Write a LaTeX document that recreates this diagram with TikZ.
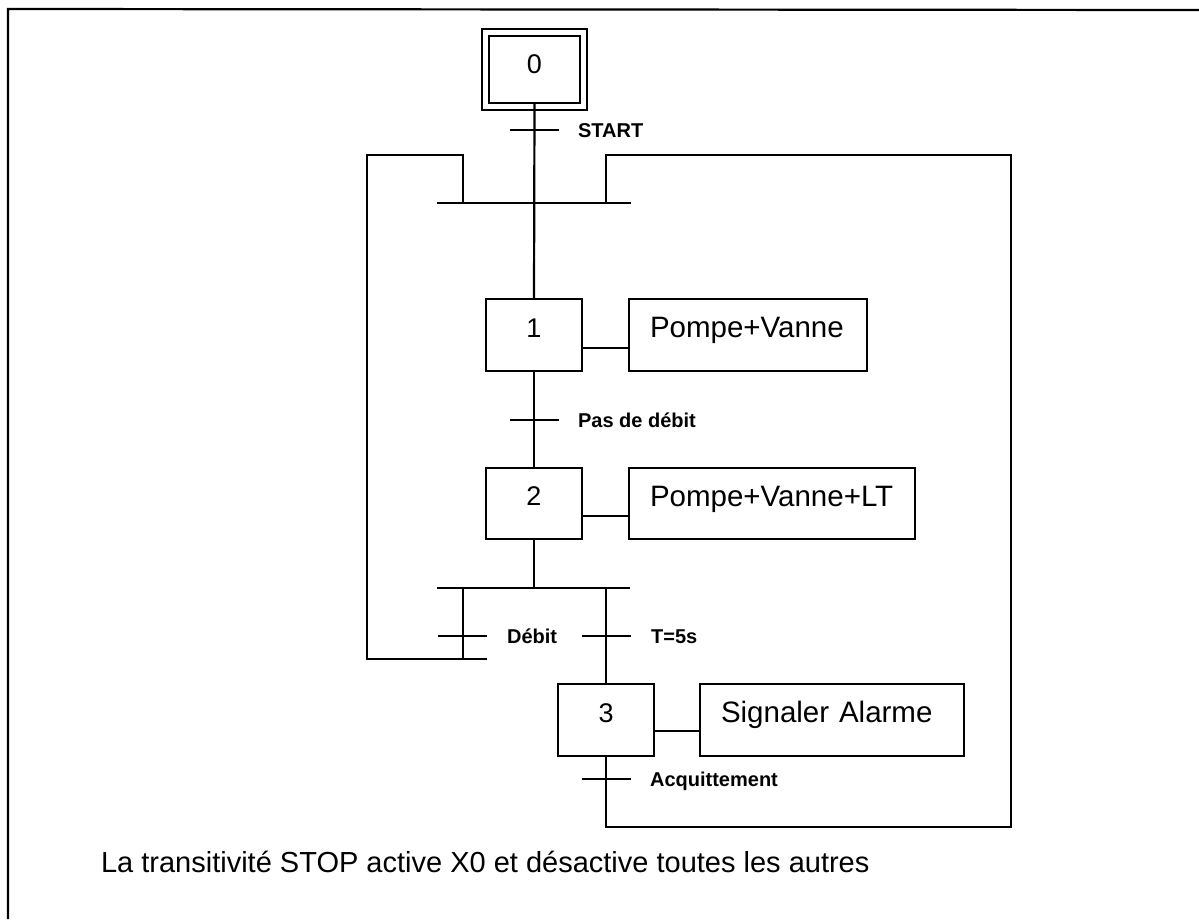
\documentclass[tikz,border=0pt]{standalone}
\usepackage{fontspec}
\setmainfont{Liberation Sans}
\begin{document}
\begin{tikzpicture}[x=1pt,y=-1pt,line width=2.2pt,
  stepbox/.style={draw, minimum width=96pt, minimum height=72pt, inner sep=0pt,
    text height=19pt, text depth=15pt, font=\fontsize{27}{27}\selectfont},
  actbox/.style={draw, minimum height=72pt, inner ysep=0pt, inner xsep=21pt, align=left,
    text height=20pt, text depth=15pt, font=\fontsize{29.5}{29.5}\selectfont},
  lbl/.style={anchor=base west, inner sep=0pt, font=\fontsize{20}{20}\selectfont\bfseries},
  bar/.style={line width=2.4pt}]
\useasboundingbox (0,0) rectangle (1199,919);
% page frame
\draw[line width=2.2pt] (8,919) -- (8,9) -- (1199,10);

% steps
\node[stepbox, minimum width=91pt, minimum height=67pt, text depth=12pt] (s0) at (534.5,69.5) {0};
\draw ([shift={(-6pt,6pt)}]s0.north west) rectangle ([shift={(6pt,-6pt)}]s0.south east);
\node[stepbox] (s1) at (534,335) {1};
\node[stepbox, minimum height=71pt] (s2) at (534,503.5) {2};
\node[stepbox] (s3) at (606,720) {3};

% actions
\node[actbox, text width=196pt] (a1) at (748,335) {Pompe+Vanne};
\node[actbox, text width=244pt, minimum height=71pt] (a2) at (772,503.5) {Pompe+Vanne+LT};
\node[actbox, text width=222pt] (a3) at (832,720) {Signaler Alarme};

% coordinates
\coordinate (t0) at (534,130);
\coordinate (t1) at (534,420);
\coordinate (tD) at (463,636);
\coordinate (tT) at (606,636);
\coordinate (tA) at (606,779);
\coordinate (cL) at (437,203);
\coordinate (cR) at (631,203);
\coordinate (dL) at (437,588);
\coordinate (dR) at (630,588);
\coordinate (e0) at (367,659);
\coordinate (e1) at (487,659);
\coordinate (k1) at (367,155);
\coordinate (m1) at (463,203);
\coordinate (r1) at (1011,827);
\coordinate (r2) at (1011,155);
\coordinate (m2) at (606,203);

% main sequence
\draw (s0.south) -- (s1.north);
\draw[bar] ([xshift=-24.5pt]t0) -- ([xshift=24.5pt]t0);
\draw[bar] (cL) -- (cR);
\draw (s1.south) -- (s2.north);
\draw[bar] ([xshift=-24.5pt]t1) -- ([xshift=24.5pt]t1);
\draw (s2.south) -- (s2.south |- dL);
\draw[bar] (dL) -- (dR);

% right branch to step 3
\draw (s3.north |- dR) -- (s3.north);
\draw[bar] ([xshift=-24.5pt]tT) -- ([xshift=24.5pt]tT);

% left branch (Débit) back to step 1
\draw (tD |- dL) -- (tD |- e1);
\draw[bar] ([xshift=-25pt]tD) -- ([xshift=24pt]tD);
\draw (e1) -- (e0) -- (k1) -| (m1);

% step 3 back to step 1
\draw (s3.south) |- (r1) -- (r2) -| (m2);
\draw[bar] ([xshift=-24.5pt]tA) -- ([xshift=24.5pt]tA);

% action links
\draw ([yshift=-13pt]s1.east) -- ([yshift=-13pt]s1.east -| a1.west);
\draw ([yshift=-12.5pt]s2.east) -- ([yshift=-12.5pt]s2.east -| a2.west);
\draw ([yshift=-11pt]s3.east) -- ([yshift=-11pt]s3.east -| a3.west);

% transition labels
\node[lbl] (l0) at (577,137.5) {START};
\node[lbl] (l1) at (577,427.5) {Pas de débit};
\node[lbl] (lD) at (506,643.5) {Débit};
\node[lbl] (lT) at (650,643.5) {T=5s};
\node[lbl] (lA) at (649,786.5) {Acquittement};

% note
\node[anchor=base west, inner sep=0pt, font=\fontsize{29}{29}\selectfont] (note) at (100,872)
  {La transitivité STOP active X0 et désactive toutes les autres};
\end{tikzpicture}
\end{document}
